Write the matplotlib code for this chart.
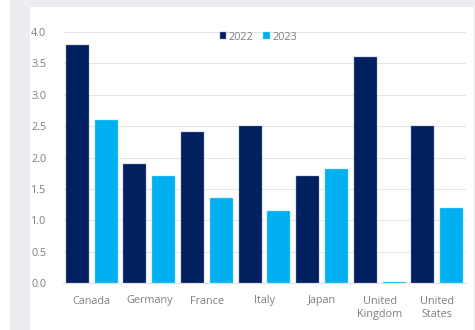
import numpy as np
import matplotlib.pyplot as plt
from matplotlib.patches import Rectangle

# ---- data ----
countries = ["Canada", "Germany", "France", "Italy", "Japan", "United\nKingdom", "United\nStates"]
vals_2022 = [3.8, 1.9, 2.4, 2.5, 1.7, 3.6, 2.5]
vals_2023 = [2.6, 1.7, 1.35, 1.15, 1.82, 0.02, 1.2]
yticks = [0.0, 0.5, 1.0, 1.5, 2.0, 2.5, 3.0, 3.5, 4.0]

dark = "#002060"
light = "#00B0F0"
txt = "#7f7f7f"

plt.rcParams['font.family'] = ['Open Sans', 'DejaVu Sans']

fig = plt.figure(figsize=(4.75, 3.3), dpi=100)
fig.patch.set_facecolor("white")
# gray frame and white panel behind the chart
fig.patches.append(Rectangle((10/475, 0), 465/475, 1, transform=fig.transFigure,
                             facecolor="#ebedf0", edgecolor="none", zorder=-2))
fig.patches.append(Rectangle((30/475, 0), 444/475, 323/330, transform=fig.transFigure,
                             facecolor="white", edgecolor="none", zorder=-1))

ax = fig.add_axes([63/475, 47/330, 403/475, 251/330])
ax.set_facecolor("none")

x = np.arange(len(countries))
w = 0.4
ax.bar(x - 0.25, vals_2022, width=w, color=dark, edgecolor="#8090b0", linewidth=0.3, label="2022", zorder=3)
ax.bar(x + 0.25, vals_2023, width=w, color=light, edgecolor="#80d8f8", linewidth=0.3, label="2023", zorder=3)

ax.set_xlim(-0.5, len(countries) - 0.5)
ax.set_ylim(0, 4.0)
ax.set_yticks(yticks)
ax.set_yticklabels([f"{v:.1f}" for v in yticks])
ax.set_xticks(x)
ax.set_xticklabels(countries, linespacing=1.35)
ax.tick_params(axis="both", length=0, labelsize=7.8, colors=txt)
ax.tick_params(axis="y", pad=12)
ax.tick_params(axis="x", pad=9)
ax.grid(axis="y", color="#e6e6e6", linewidth=0.8, zorder=0)
for s in ["top", "right", "left"]:
    ax.spines[s].set_visible(False)
ax.spines["bottom"].set_color("#e0e0e0")

leg = ax.legend(loc="upper center", bbox_to_anchor=(0.485, 1.04), ncol=2, frameon=False,
                fontsize=7.8, handlelength=0.6, handleheight=0.6, handletextpad=0.25,
                columnspacing=0.9, labelcolor=txt)

fig.savefig("out.png", dpi=100)
